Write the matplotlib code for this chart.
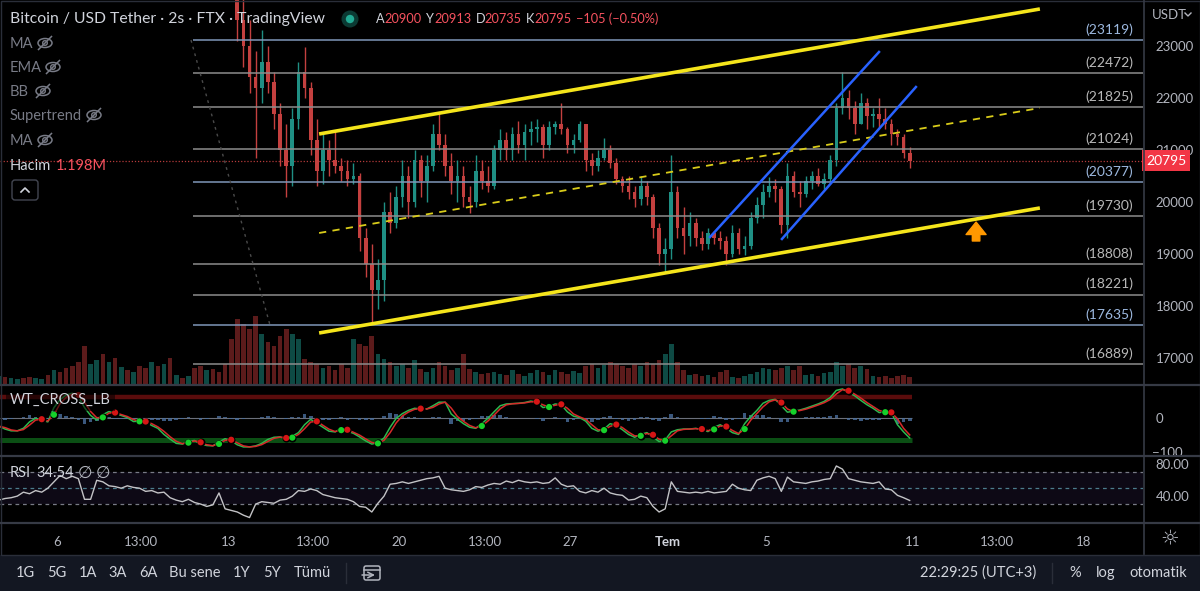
import numpy as np
import pandas as pd
import matplotlib
matplotlib.use("Agg")
import matplotlib.pyplot as plt
from matplotlib.patches import Rectangle, Ellipse, Circle, FancyBboxPatch
from matplotlib.transforms import Bbox, TransformedBbox

plt.rcParams['font.family'] = ['Lato', 'DejaVu Sans']

# ---------------- data (day numbers counted in June; 31 = 1 July) ----------------
slot_start_day = 3.5      # indicator / volume series start, 6-hour slots
slot_len = 0.25
candle_start_day = 13.0   # first candle shown (13 June 00:00), 6-hour candles

candle_first_open = 26600
candle_high = [26900, 26000, 24000, 23500, 22900, 23300, 23000, 22500, 21900, 21500,
               21800, 22700, 22980, 22300, 21600, 21300, 21200, 21350, 20850, 20800,
               20750, 20550, 19500, 19200, 18900, 20000, 20200, 20300, 20800, 20700,
               21000, 20900, 20900, 21500, 21720, 21300, 20950, 20800, 20700, 20300,
               20900, 20800, 20700, 21100, 21400, 21350, 21450, 21550, 21500, 21550,
               21600, 21500, 21550, 21550, 21900, 21450, 21300, 21550, 21500, 20950,
               21000, 21230, 21100, 20850, 20500, 20500, 20300, 20500, 20400, 20150,
               19600, 19300, 20900, 20300, 19900, 19800, 19700, 19450, 19500, 19450,
               19450, 19350, 19550, 19500, 19350, 19800, 20100, 20350, 20480, 20450,
               20300, 20750, 20600, 20400, 20500, 20600, 20650, 20550, 20900, 21900,
               22500, 22150, 21950, 22100, 22000, 21800, 22000, 21800, 21600, 21400,
               21300, 21050]
candle_low = [25500, 23100, 22600, 22100, 20850, 21900, 22100, 21400, 20700, 20100,
              20300, 21400, 22000, 20900, 20300, 20350, 20500, 20550, 20400, 20300,
              20350, 19050, 18550, 17650, 17950, 18100, 19400, 19500, 19900, 19700,
              19900, 20100, 20000, 20600, 21000, 20500, 20150, 20000, 19900, 19780,
              19900, 20250, 20200, 20250, 20800, 20800, 20800, 20950, 20800, 21100,
              21150, 20850, 21000, 21300, 21300, 20950, 20950, 21150, 20600, 20520,
              20600, 20800, 20650, 20350, 20200, 20050, 19900, 19950, 19950, 19300,
              18790, 18650, 18900, 19300, 19000, 19150, 19150, 19080, 19100, 19200,
              19100, 18780, 18950, 19000, 18980, 19100, 19600, 19700, 20100, 20000,
              19400, 19300, 20100, 19900, 20100, 20250, 20300, 20250, 20400, 20700,
              21700, 21600, 21300, 21500, 21400, 21450, 21450, 21400, 21100, 21100,
              20850, 20650]
candle_close = [25700, 23500, 23000, 22400, 22200, 22700, 22300, 21700, 21000, 20700,
                21600, 22500, 22200, 21200, 20600, 21000, 20800, 20700, 20600, 20450,
                20500, 19300, 18800, 18300, 18500, 19800, 19600, 20100, 20500, 20000,
                20800, 20400, 20700, 21300, 21100, 20700, 20400, 20500, 20100, 20000,
                20600, 20400, 20300, 21000, 21200, 21000, 21300, 21100, 21350, 21400,
                21450, 21100, 21450, 21500, 21400, 21100, 21200, 21500, 20800, 20700,
                20850, 21000, 20750, 20450, 20300, 20200, 20050, 20300, 20100, 19500,
                19000, 19100, 20200, 19500, 19350, 19600, 19300, 19200, 19400, 19300,
                19250, 19000, 19400, 19100, 19150, 19700, 19950, 20200, 20300, 20250,
                19550, 20500, 20200, 20150, 20400, 20500, 20350, 20450, 20800, 21800,
                22000, 21800, 21500, 21900, 21650, 21700, 21600, 21500, 21300, 21250,
                20950, 20795]

volume = [8, 7, 6, 5, 6, 7, 6, 5, 9, 14,
          12, 16, 18, 22, 38, 20, 24, 30, 22, 26,
          17, 14, 12, 18, 16, 22, 18, 20, 26, 9,
          6, 8, 16, 18, 14, 15, 12, 20, 45, 65,
          60, 55, 68, 50, 42, 38, 48, 55, 50, 45,
          25, 22, 20, 16, 18, 14, 20, 16, 45, 40,
          38, 48, 30, 25, 22, 18, 20, 16, 24, 15,
          12, 16, 22, 18, 14, 16, 30, 15, 12, 10,
          11, 12, 10, 9, 14, 10, 8, 11, 14, 12,
          9, 14, 12, 10, 13, 11, 18, 20, 16, 19,
          22, 20, 18, 16, 20, 18, 22, 20, 24, 30,
          40, 22, 14, 9, 10, 8, 9, 7, 12, 14,
          7, 6, 8, 10, 12, 16, 15, 14, 16, 18,
          14, 18, 9, 10, 8, 11, 12, 22, 18, 20,
          16, 18, 15, 8, 7, 8, 6, 8, 9, 7]
early_volume_dir = "uduudduududdddduududududdududududdudddd"[:38]

rsi = [35, 37, 38, 40, 45, 43, 47, 45, 50, 58,
       66, 62, 65, 62, 36, 36, 60, 58, 53, 52,
       50, 53, 51, 50, 46, 47, 44, 45, 38, 35,
       33, 36, 32, 30, 27, 29, 44, 24, 22, 20,
       16, 13, 30, 33, 32, 31, 35, 36, 40, 47,
       46, 49, 47, 42, 40, 38, 37, 36, 33, 27,
       26, 20, 31, 40, 55, 56, 58, 56, 58, 60,
       62, 63, 65, 50, 48, 47, 46, 48, 52, 51,
       54, 56, 55, 59, 57, 60, 58, 57, 58, 56,
       57, 63, 55, 52, 53, 46, 44, 47, 45, 50,
       44, 42, 41, 35, 36, 40, 38, 27, 20, 24,
       58, 46, 45, 44, 45, 44, 46, 44, 45, 46,
       55, 50, 48, 47, 60, 63, 65, 62, 46, 64,
       58, 57, 56, 58, 59, 61, 62, 78, 74, 62,
       60, 58, 57, 56, 58, 49, 48, 41, 38, 34.54]

wt1 = [-22, -30, -35, -35, -28, -10, 0, -5, -10, 30,
       52, 65, 70, 60, 30, 8, -5, 10, 19, 13,
       8, 2, -9, -8, -10, -20, -28, -45, -58, -70,
       -72, -64, -62, -72, -76, -77, -66, -57, -63, -74,
       -80, -80, -77, -70, -59, -53, -52, -58, -50, -40,
       -18, -3, -14, -25, -36, -38, -28, -36, -42, -52,
       -63, -72, -68, -55, -25, 0, 13, 22, 28, 26,
       26, 35, 45, 45, 12, -2, -15, -25, -28, -15,
       0, 18, 35, 40, 41, 42, 44, 48, 45, 30,
       33, 40, 38, 18, 6, 2, -8, -28, -36, -30,
       -15, -20, -32, -45, -53, -45, -40, -52, -65, -60,
       -38, -32, -30, -30, -28, -32, -37, -25, -18, -28,
       -40, -45, -15, 5, 22, 42, 50, 53, 35, 17,
       20, 23, 28, 34, 40, 47, 58, 78, 82, 72,
       63, 50, 38, 28, 16, 18, 15, -18, -38, -55]

fib_levels = [23119, 22472, 21825, 21024, 20377, 19730, 18808, 18221, 17635, 16889]
fib_is_blue = [True, False, False, False, True, False, False, False, True, False]
fib_start_day = 11.56

channel_upper = [(16.72, 21308), (46.20, 23712)]
channel_lower = [(16.72, 17481), (46.20, 19885)]
channel_mid = [(16.72, 19404), (46.20, 21808)]
blue_upper = [(32.71, 19327), (39.62, 22885)]
blue_lower = [(35.65, 19289), (41.13, 22212)]
fib_diagonal = [(11.48, 23115), (14.71, 17635)]
arrow_day, arrow_from, arrow_to = 43.59, 19250, 19615

last_price = 20795
ohlc_letters = ["A", "Y", "D", "K"]
ohlc_values = ["20900", "20913", "20735", "20795"]
change_text = "\u2212105 (\u22120.50%)"

price_ticks = [17000, 18000, 19000, 20000, 21000, 22000, 23000]
time_tick_days = [6, 9.45, 13, 16.47, 20, 23.5, 27, 31, 35, 41, 44.45, 48]
time_tick_labels = ["6", "13:00", "13", "13:00", "20", "13:00", "27", "Tem", "5", "11", "13:00", "18"]
legend_names = ["MA", "EMA", "BB", "Supertrend", "MA"]
toolbar_left = ["1G", "5G", "1A", "3A", "6A", "Bu sene", "1Y", "5Y", "Tümü"]
toolbar_right = ["22:29:25 (UTC+3)", "%", "log", "otomatik"]

# ---------------- layout helpers ----------------
W, H = 1200, 591
PLOT_R = 1143
X0 = 6 - 57 / 24.45
X1 = 6 + (PLOT_R - 57) / 24.45

def rect(top, bottom, left=0, right=PLOT_R):
    return [left / W, 1 - bottom / H, (right - left) / W, (bottom - top) / H]

UP, DOWN = '#1f8f84', '#c4403f'
VUP, VDOWN = '#0e4a44', '#5c1b1b'
TXT, TXT2 = '#d1d4dc', '#b2b5be'
SEP = '#363a45'

fig = plt.figure(figsize=(12, 5.91), dpi=100, facecolor='#000000')

def clean(ax):
    for s in ax.spines.values():
        s.set_visible(False)
    ax.tick_params(length=0, colors=TXT2, labelsize=9.5)

# ---------------- main panel ----------------
ax_vol = fig.add_axes(rect(0, 384))
ax_vol.set_facecolor('#000000')
ax_vol.set_xlim(X0, X1)
ax_vol.set_ylim(0, 384)
ax_vol.axis('off')

n_s = len(volume)
s_x = slot_start_day + (np.arange(n_s) + 0.5) * slot_len

n_c = len(candle_close)
c_x = candle_start_day + (np.arange(n_c) + 0.5) * slot_len
c_close = np.array(candle_close, float)
c_open = np.concatenate([[candle_first_open], c_close[:-1]])
c_high = np.array(candle_high, float)
c_low = np.array(candle_low, float)
c_up = c_close >= c_open

vol_up = [ch == 'u' for ch in early_volume_dir] + list(c_up)
ax_vol.bar(s_x, volume, width=0.19, color=[VUP if u else VDOWN for u in vol_up], linewidth=0)

ax_main = fig.add_axes(rect(0, 384))
ax_main.set_facecolor('none')
ax_main.set_xlim(X0, X1)
ax_main.set_ylim(23000 - (384 - 46) * 1000 / 52, 23000 + 46 * 1000 / 52)
clean(ax_main)
ax_main.set_xticks([])
ax_main.yaxis.tick_right()
ax_main.set_yticks(price_ticks)
ax_main.set_yticklabels([str(p) for p in price_ticks])
ax_main.tick_params(axis='y', pad=9)

ccol = np.where(c_up, UP, DOWN)
ax_main.vlines(c_x, c_low, c_high, colors=ccol, lw=1.0, zorder=3)
ax_main.bar(c_x, np.maximum(np.abs(c_close - c_open), 20), bottom=np.minimum(c_open, c_close),
            width=0.15, color=ccol, linewidth=0, zorder=3.2)

# fib levels
for lvl, blue in zip(fib_levels, fib_is_blue):
    lc = '#7f97b8' if blue else '#8c8c8c'
    tc = '#9db9e0' if blue else '#b8b8b8'
    ax_main.hlines(lvl, fib_start_day, X1, color=lc, lw=1.1, zorder=4)
    ax_main.annotate(f'({lvl})', xy=(1133 / PLOT_R, lvl), xycoords=('axes fraction', 'data'),
                     xytext=(0, 7.5), textcoords='offset points', ha='right', va='center',
                     color=tc, fontsize=10, zorder=6)

# fib diagonal
ax_main.plot(*zip(*fib_diagonal), color='#4a4a4a', lw=1, ls=(0, (2, 3)), zorder=4)

# current price line
ax_main.axhline(last_price, color='#b53a3a', lw=0.9, ls=(0, (1, 1.5)), zorder=2.5)

# channels
ax_main.plot(*zip(*channel_upper), color='#f5e51b', lw=2.6, solid_capstyle='butt', zorder=5)
ax_main.plot(*zip(*channel_lower), color='#f5e51b', lw=2.6, solid_capstyle='butt', zorder=5)
ax_main.plot(*zip(*channel_mid), color='#d9cc1a', lw=1.3, ls=(0, (4, 3.5)), zorder=5)
ax_main.plot(*zip(*blue_upper), color='#2962ff', lw=1.8, zorder=5)
ax_main.plot(*zip(*blue_lower), color='#2962ff', lw=1.8, zorder=5)

ax_main.annotate('', xy=(arrow_day, arrow_to), xytext=(arrow_day, arrow_from),
                 arrowprops=dict(arrowstyle='simple,head_length=0.75,head_width=1.2,tail_width=0.45',
                                 color='#ff9800', shrinkA=0, shrinkB=0, mutation_scale=12), zorder=6)

ax_main.text(1 + 3 / PLOT_R, last_price, str(last_price), transform=ax_main.get_yaxis_transform(),
             ha='left', va='center', color='white', fontsize=10, zorder=10,
             bbox=dict(boxstyle='square,pad=0.3', fc='#f23645', ec='none'), clip_on=False)

# ---------------- WT panel ----------------
ax_wt = fig.add_axes(rect(386, 455))
ax_wt.set_facecolor('#000000')
ax_wt.set_xlim(X0, X1)
ax_wt.set_ylim(-102.5, 90.2)
clean(ax_wt)
ax_wt.set_xticks([])
ax_wt.yaxis.tick_right()
ax_wt.set_yticks([0])
ax_wt.set_yticklabels(['0'])
ax_wt.tick_params(axis='y', pad=9)

w1 = pd.Series(wt1, dtype=float)
w2 = w1.rolling(2, min_periods=1).mean()
diff = (w1 - w2).values
xe = s_x[-1] + 0.1
ax_wt.hlines(60, X0, xe, color='#5a0c0c', lw=3.2, zorder=1)
ax_wt.hlines(-60, X0, xe, color='#0b4f14', lw=3.6, zorder=1)
ax_wt.hlines(0, X0, xe, color='#6b6f7a', lw=0.8, zorder=1)
ax_wt.bar(s_x, diff, width=0.15, color='#4b6f9e', alpha=0.8, linewidth=0, zorder=2)
ax_wt.plot(s_x, w1, color='#2db84f', lw=1.1, zorder=3)
ax_wt.plot(s_x, w2, color='#d62a2a', lw=1.1, zorder=3.1)
sg = np.sign(diff)
cross = np.where((sg[1:] != sg[:-1]) & (sg[1:] != 0) & (sg[:-1] != 0))[0] + 1
ax_wt.scatter(s_x[cross], w2.values[cross], s=34, color='#000000', zorder=4, linewidths=0)
ax_wt.scatter(s_x[cross], w2.values[cross], s=20,
              color=['#16d12a' if diff[i] > 0 else '#d61515' for i in cross], zorder=5, linewidths=0)

# ---------------- RSI panel ----------------
ax_rsi = fig.add_axes(rect(457, 522))
ax_rsi.set_facecolor('#000000')
ax_rsi.set_xlim(X0, X1)
ax_rsi.set_ylim(7.4, 89.3)
clean(ax_rsi)
ax_rsi.yaxis.tick_right()
ax_rsi.set_yticks([80, 40])
ax_rsi.set_yticklabels(['80.00', '40.00'])
ax_rsi.tick_params(axis='y', pad=9)
ax_rsi.fill_between([X0, X1], 30, 70, color='#7e57c2', alpha=0.11, linewidth=0)
ax_rsi.hlines([70, 30], X0, X1, color='#787b86', lw=0.9, ls=(0, (3, 3)))
ax_rsi.hlines(50, X0, X1, color='#4c7c8c', lw=0.9, ls=(0, (3, 3)))
ax_rsi.plot(s_x, rsi, color='#c3c3c6', lw=1.0)
ax_rsi.set_xticks(time_tick_days)
ax_rsi.set_xticklabels(time_tick_labels)
ax_rsi.tick_params(axis='x', pad=10, labelsize=9.5, colors=TXT2)
for lab in ax_rsi.get_xticklabels():
    if lab.get_text() == 'Tem':
        lab.set_fontweight('bold')
        lab.set_color(TXT)

# ---------------- overlay (UI chrome) ----------------
ov = fig.add_axes([0, 0, 1, 1])
ov.set_xlim(0, W)
ov.set_ylim(H, 0)
ov.axis('off')
ov.set_facecolor('none')

ov.add_patch(Rectangle((0, 555), W, 36, fc='#131722', ec='none', zorder=0))
for y in (385, 456, 523):
    ov.plot([0, W], [y, y], color=SEP, lw=1.6)
ov.plot([PLOT_R + 0.5, PLOT_R + 0.5], [0, 554], color=SEP, lw=1.2)
ov.add_patch(Rectangle((0.5, 0.5), W - 1, 554, fill=False, ec='#2a2e39', lw=1))

ov.text(10, 19, 'Bitcoin / USD Tether · 2s · FTX · TradingView', color=TXT, fontsize=11.3,
        va='center', ha='left')
ov.add_patch(Circle((350, 19), 8.5, fc='#0b3a33', ec='none'))
ov.add_patch(Circle((350, 19), 4.2, fc='#22ab94', ec='none'))
xs_letters = [376, 426, 476, 526]
for xl, l, v in zip(xs_letters, ohlc_letters, ohlc_values):
    ov.text(xl, 19, l, color=TXT, fontsize=9.2, va='center', ha='left')
    ov.text(xl + 8.5, 19, v, color='#f7525f', fontsize=9.2, va='center', ha='left')
ov.text(576, 19, change_text, color='#f7525f', fontsize=9.2, va='center', ha='left')

def eye_off(cx, cy):
    ov.add_patch(Ellipse((cx, cy), 14, 9, fill=False, ec='#787b86', lw=1.1))
    ov.add_patch(Circle((cx, cy), 2.3, fill=False, ec='#787b86', lw=1.0))
    ov.plot([cx - 6.5, cx + 6.5], [cy + 6.5, cy - 6.5], color='#787b86', lw=1.1)

leg_y = [44, 68, 92, 116, 141]
eye_x = [45, 53, 43, 94, 45]
for name, y, ex in zip(legend_names, leg_y, eye_x):
    ov.text(10, y, name, color='#787b86', fontsize=10.5, va='center', ha='left')
    eye_off(ex, y - 1)
ov.text(10, 166, 'Hacim', color=TXT, fontsize=10.5, va='center', ha='left')
ov.text(56, 166, '1.198M', color='#f7525f', fontsize=10.5, va='center', ha='left')
ov.add_patch(FancyBboxPatch((12, 180), 26, 20, boxstyle='round,pad=0,rounding_size=3',
                            fill=False, ec='#434651', lw=1))
ov.plot([21, 25, 29], [192, 188, 192], color=TXT, lw=1.2)

ov.text(10, 400, 'WT_CROSS_LB', color=TXT, fontsize=10.5, va='center', ha='left',
        bbox=dict(boxstyle='square,pad=0.3', fc='#000000', ec='none', alpha=0.55))
ov.text(10, 473, 'RSI', color=TXT, fontsize=10.5, va='center', ha='left')
ov.text(36, 473, '34.54', color=TXT, fontsize=10.5, va='center', ha='left')
ov.text(78, 473, '\u2205', color=TXT2, fontsize=12, va='center', ha='left', family=['DejaVu Sans'])
ov.text(96, 473, '\u2205', color=TXT2, fontsize=12, va='center', ha='left', family=['DejaVu Sans'])

ov.text(1152, 15, 'USDT', color=TXT2, fontsize=9.5, va='center', ha='left')
ov.plot([1185, 1188, 1191], [13, 16, 13], color=TXT2, lw=1)
m100 = ov.text(1152, 453, '\u2212100', color=TXT2, fontsize=9.5, va='center', ha='left')
m100.set_clip_box(TransformedBbox(Bbox([[PLOT_R / W, 1 - 455 / H], [1, 1 - 386 / H]]), fig.transFigure))
m100.set_clip_on(True)
ov.text(1170, 538, '\u263c', color=TXT2, fontsize=15, va='center', ha='center', family=['DejaVu Sans'])

tb_x = [25, 57, 88, 118, 148, 195, 242, 272, 312]
for t, x in zip(toolbar_left, tb_x):
    ov.text(x, 573, t, color=TXT, fontsize=10.5, va='center', ha='center')
ov.plot([346, 346], [563, 583], color='#2a2e39', lw=1)
ov.add_patch(FancyBboxPatch((364, 566), 16, 14, boxstyle='round,pad=0,rounding_size=2',
                            fill=False, ec=TXT2, lw=1.1))
ov.plot([364, 380], [570, 570], color=TXT2, lw=1.1)
ov.annotate('', xy=(375, 575), xytext=(362, 575),
            arrowprops=dict(arrowstyle='->', color=TXT2, lw=1.1, shrinkA=0, shrinkB=0))
ov.plot([1052, 1052], [563, 583], color='#2a2e39', lw=1)
for t, x in zip(toolbar_right, [978, 1075, 1106, 1158]):
    ov.text(x, 573, t, color=TXT, fontsize=10.5, va='center', ha='center')

fig.savefig('out.png', dpi=100, facecolor='#000000')
